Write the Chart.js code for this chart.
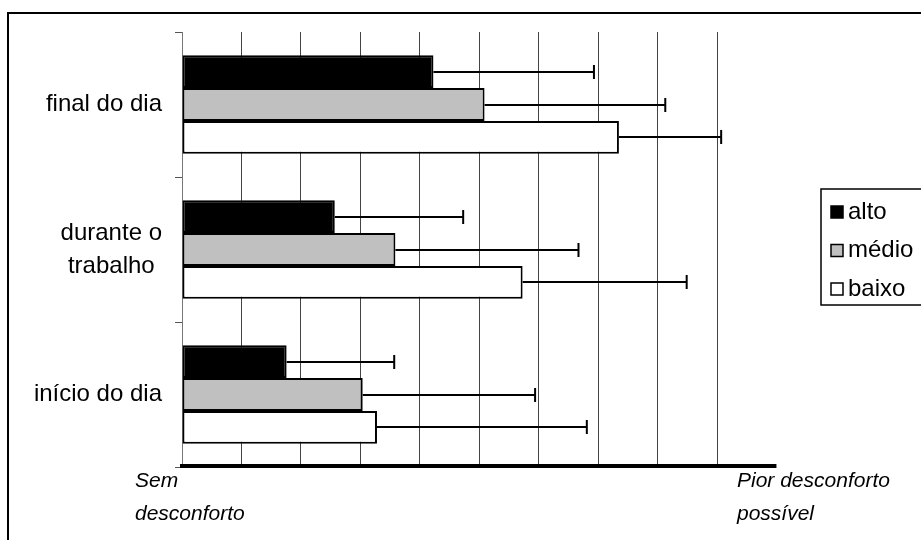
<!DOCTYPE html>
<html>
<head>
<meta charset="utf-8">
<script src="https://cdn.jsdelivr.net/npm/chart.js@4/dist/chart.umd.min.js"></script>
<style>
  html, body { margin: 0; padding: 0; background: #fff; }
  #wrap { width: 921px; height: 540px; position: relative; }
</style>
</head>
<body>
<div id="wrap"><canvas id="c" width="921" height="540"></canvas></div>
<script>
// Moments of the working day (top to bottom)
const categories = ['final do dia', ['durante o', 'trabalho'], 'início do dia'];

// Groups
const seriesNames = ['alto', 'médio', 'baixo'];

// Mean discomfort score per moment, and its standard deviation
const altoMeans  = [4.23, 2.57, 1.76];
const altoSD     = [2.70, 2.16, 1.81];
const medioMeans = [5.09, 3.59, 3.04];
const medioSD    = [3.04, 3.08, 2.90];
const baixoMeans = [7.35, 5.73, 3.28];
const baixoSD    = [1.72, 2.76, 3.53];

// Visual analogue scale: drawn grid range and full scale length
const axisMin = 0;
const axisMax = 9;
const scaleLength = 10;
const scaleEndLabels = [['Sem', 'desconforto'], ['Pior desconforto', 'possível']];

const FONT = '"Liberation Sans", Arial, sans-serif';

const datasets = [
  { label: seriesNames[0], data: altoMeans,  sd: altoSD,  backgroundColor: '#000000' },
  { label: seriesNames[1], data: medioMeans, sd: medioSD, backgroundColor: '#c0c0c0' },
  { label: seriesNames[2], data: baixoMeans, sd: baixoSD, backgroundColor: '#ffffff' }
].map(d => Object.assign(d, {
  borderColor: '#000000',
  borderWidth: 2,
  borderSkipped: false,
  categoryPercentage: 0.68,
  barPercentage: 1.0
}));

// Error bars (positive side only) with end caps
const errorBars = {
  id: 'errorBars',
  afterDatasetsDraw(chart) {
    const ctx = chart.ctx;
    const xs = chart.scales.x;
    ctx.save();
    ctx.strokeStyle = '#000';
    ctx.lineWidth = 2;
    chart.data.datasets.forEach((ds, di) => {
      const meta = chart.getDatasetMeta(di);
      meta.data.forEach((bar, i) => {
        const x0 = bar.x;
        const x1 = xs.getPixelForValue(ds.data[i] + ds.sd[i]);
        const y = Math.round(bar.y);
        ctx.beginPath();
        ctx.moveTo(x0, y);
        ctx.lineTo(x1, y);
        ctx.moveTo(x1, y - 7);
        ctx.lineTo(x1, y + 7);
        ctx.stroke();
      });
    });
    ctx.restore();
  }
};

// Frame, category labels, scale line, end labels and legend
const decorations = {
  id: 'decorations',
  afterDraw(chart) {
    const ctx = chart.ctx;
    const xs = chart.scales.x;
    const ys = chart.scales.y;
    ctx.save();

    // outer frame
    ctx.strokeStyle = '#000';
    ctx.lineWidth = 2;
    ctx.strokeRect(8, 13, 1000, 1000);

    // category labels: block right-aligned, lines centred within the block
    ctx.fillStyle = '#000';
    ctx.font = '24px ' + FONT;
    ctx.textBaseline = 'middle';
    ctx.textAlign = 'center';
    const lineH = 33;
    chart.data.labels.forEach((lab, i) => {
      const lines = Array.isArray(lab) ? lab : [lab];
      const w = Math.max(...lines.map(t => ctx.measureText(t).width));
      const cx = 162 - w / 2;
      const cy = ys.getPixelForValue(i);
      lines.forEach((t, k) => {
        ctx.fillText(t, cx, cy + (k - (lines.length - 1) / 2) * lineH);
      });
    });

    // thick scale line spanning the full analogue scale
    ctx.lineWidth = 4;
    ctx.beginPath();
    ctx.moveTo(xs.getPixelForValue(0) - 2, 466);
    ctx.lineTo(xs.getPixelForValue(scaleLength), 466);
    ctx.stroke();

    // scale end labels
    ctx.font = 'italic 21px ' + FONT;
    ctx.textAlign = 'left';
    const ends = [xs.getPixelForValue(0) - 47, xs.getPixelForValue(axisMax) + 20];
    scaleEndLabels.forEach((lines, j) => {
      lines.forEach((t, k) => ctx.fillText(t, ends[j], 481 + k * 33));
    });

    // legend
    ctx.lineWidth = 1.5;
    ctx.strokeRect(821, 189, 200, 116);
    ctx.font = '24px ' + FONT;
    chart.data.datasets.forEach((ds, i) => {
      const cy = 212 + i * 38.5;
      ctx.fillStyle = ds.backgroundColor;
      ctx.fillRect(831, cy - 6, 12, 12);
      ctx.strokeStyle = '#000';
      ctx.lineWidth = 1.5;
      ctx.strokeRect(831, cy - 6, 12, 12);
      ctx.fillStyle = '#000';
      ctx.fillText(ds.label, 848, cy);
    });

    ctx.restore();
  }
};

new Chart(document.getElementById('c'), {
  type: 'bar',
  data: { labels: categories, datasets: datasets },
  options: {
    responsive: false,
    animation: false,
    indexAxis: 'y',
    layout: { padding: { left: 0, top: 32, right: 204, bottom: 73 } },
    plugins: { legend: { display: false }, tooltip: { enabled: false } },
    scales: {
      x: {
        min: axisMin,
        max: axisMax,
        ticks: { display: false, stepSize: 1 },
        grid: { color: '#444', lineWidth: 1, drawTicks: false },
        border: { display: false },
        afterFit(s) { s.height = 0; }
      },
      y: {
        ticks: { display: false },
        grid: { offset: true, drawOnChartArea: false, tickLength: 7, color: '#555' },
        border: { color: '#777', width: 1 },
        afterFit(s) { s.width = 182; }
      }
    }
  },
  plugins: [errorBars, decorations]
});
</script>
</body>
</html>
